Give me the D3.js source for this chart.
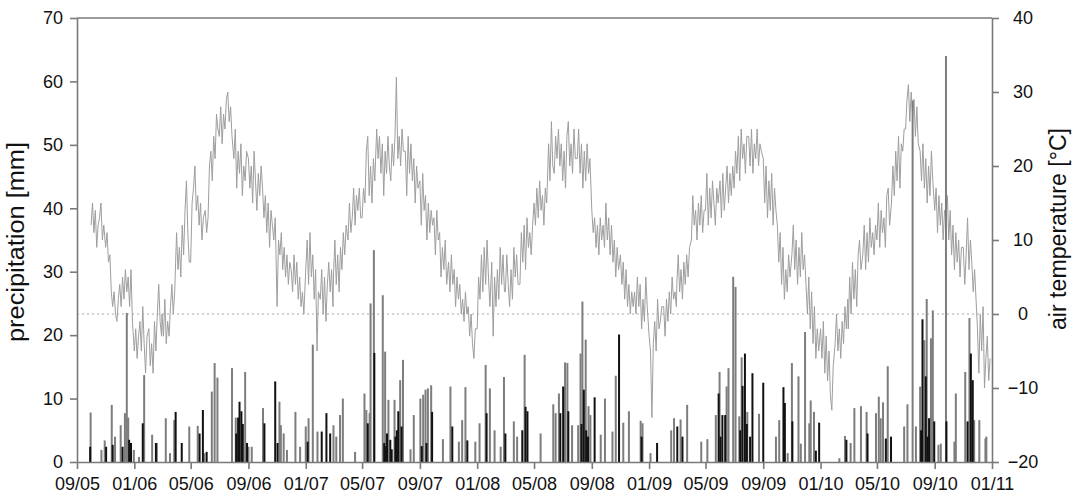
<!DOCTYPE html>
<html>
<head>
<meta charset="utf-8">
<script src="https://cdn.jsdelivr.net/npm/d3@7"></script>
<style>
  body { margin: 0; background: #fff; }
  svg { display: block; font-family: "Liberation Sans", Arial, sans-serif; }
</style>
</head>
<body>
<div id="chart"></div>
<script>
// Air temperature [°C]: 10 readings per month (days 1, 4, 7, ... 28)
const temp2005 = [ // Oct - Dec
  12, 15, 11, 14, 9, 12, 13, 15, 10, 12,
  9, 11, 7, 8, 3, 1, 3, 0, -1, 2,
  4, 1, 5, 2, 6, 3, 5, 1, 6, -1
];
const temp2006 = [
  -5, -2, -6, -3, -1, -5, 1, -4, -8, -3,
  -2, -7, -4, -8, -1, -5, 0, 4, -1, -3,
  0, -3, 2, -4, -1, -3, 1, 4, 0, 3,
  11, 6, 9, 5, 12, 8, 14, 18, 11, 7,
  7, 15, 17, 20, 14, 16, 12, 15, 10, 13,
  14, 11, 13, 20, 22, 18, 24, 21, 27, 25,
  24, 28, 23, 27, 25, 29, 30, 26, 28, 24,
  21, 25, 17, 22, 19, 23, 16, 20, 18, 22,
  21, 17, 20, 15, 22, 18, 14, 19, 16, 20,
  17, 13, 16, 11, 15, 9, 14, 12, 10, 13,
  1, 10, 8, 11, 6, 9, 5, 8, 4, 7,
  6, 3, 8, 4, 7, 2, 5, 1, 3, 0
];
const temp2007 = [
  6, 10, 4, 11, 5, 8, 2, 6, -5, 3,
  2, 6, 0, 5, -1, 4, 7, 3, 6, 1,
  5, 10, 4, 8, 3, 9, 6, 11, 8, 12,
  10, 15, 11, 13, 17, 12, 16, 14, 17, 13,
  13, 17, 15, 22, 24, 16, 20, 15, 21, 18,
  25, 21, 24, 19, 23, 16, 22, 19, 24, 20,
  18, 23, 20, 24, 32, 21, 24, 20, 25, 22,
  22, 16, 24, 19, 23, 18, 21, 15, 20, 17,
  18, 12, 19, 14, 16, 10, 15, 11, 14, 12,
  13, 8, 14, 10, 11, 5, 9, 6, 10, 4,
  7, 3, 8, 4, 6, 1, 5, 2, 4, 0,
  2, -1, 3, 0, 1, -3, 0, -4, -6, -2
];
const temp2008 = [
  -2, 5, 2, 8, 3, 9, 4, 10, 5, 1,
  7, -3, 5, 1, 6, 2, 9, 4, 8, 3,
  3, 8, 4, 1, 6, 2, 9, 5, 8, 4,
  4, 11, 7, 12, 6, 13, 9, 11, 8, 12,
  15, 12, 17, 13, 18, 14, 16, 12, 17, 15,
  23, 18, 26, 20, 19, 24, 21, 25, 20, 23,
  18, 22, 17, 24, 26, 20, 23, 19, 25, 21,
  21, 25, 19, 23, 17, 22, 18, 23, 19, 21,
  14, 11, 13, 9, 12, 8, 13, 10, 12, 9,
  15, 10, 13, 8, 12, 7, 10, 5, 9, 6,
  8, 4, 7, 2, 6, 1, 4, 0, 3, 1,
  3, 0, 5, 1, 4, -2, 2, -1, 5, 1
];
const temp2009 = [
  -3, -5, -14, -4, -1, -5, 2, -2, -1, 1,
  1, -3, 2, -1, 3, 0, 5, 2, 3, 1,
  4, 8, 3, 6, 2, 7, 4, 8, 5, 9,
  10, 16, 12, 14, 10, 15, 12, 16, 11, 14,
  14, 19, 12, 17, 13, 18, 15, 12, 17, 15,
  18, 13, 19, 14, 17, 20, 15, 19, 16, 20,
  17, 22, 19, 24, 18, 25, 21, 23, 19, 24,
  24, 20, 25, 19, 23, 21, 25, 20, 23, 22,
  21, 15, 20, 13, 18, 14, 19, 12, 17, 14,
  12, 7, 11, 4, 9, 2, 6, 3, 8, 5,
  8, 12, 6, 10, 4, 9, 5, 11, 6, 8,
  4, 0, 5, -2, 3, -4, 1, -6, -2, -5
];
const temp2010 = [
  -2, -6, -1, -8, -3, -9, -5, -11, -13, -7,
  -4, 0, -5, -2, -6, -1, -4, 1, -2, 2,
  -2, 5, 0, 7, 2, 6, 1, 8, 10, 6,
  8, 12, 6, 11, 7, 13, 9, 11, 8, 12,
  10, 15, 9, 14, 11, 13, 9, 16, 17, 12,
  15, 20, 16, 22, 18, 24, 17, 23, 22, 25,
  25, 29, 31, 26, 30, 27, 29, 24, 28, 23,
  22, 18, 23, 17, 21, 15, 20, 16, 22, 18,
  14, 17, 11, 16, 12, 15, 10, 14, 13, 16,
  10, 14, 8, 12, 6, 11, 7, 10, 5, 9,
  9, 4, 8, 13, 6, 10, 7, 3, 6, 2,
  -2, -8, 0, -5, 1, -10, -6, -3, -9, -6
];
const sampleDays = [1, 4, 7, 10, 13, 16, 19, 22, 25, 28];

// Daily precipitation [mm]: grey bars and black bars
const precipGray = [
  ["2005-09-30", 7.8], ["2005-10-23", 1.9], ["2005-10-30", 3.4], ["2005-11-14", 9.0], ["2005-11-21", 4.0],
  ["2005-12-03", 5.8], ["2005-12-12", 7.7], ["2005-12-16", 23.5], ["2005-12-19", 7.0], ["2005-12-31", 1.9],
  ["2006-01-11", 0.8], ["2006-01-22", 13.7], ["2006-02-08", 4.3], ["2006-02-18", 3.0], ["2006-03-09", 6.9],
  ["2006-03-18", 1.4], ["2006-03-27", 6.6], ["2006-04-28", 5.6], ["2006-05-16", 5.7], ["2006-05-30", 1.4],
  ["2006-06-15", 11.1], ["2006-06-21", 15.6], ["2006-06-27", 13.3], ["2006-07-28", 14.8], ["2006-08-05", 7.0],
  ["2006-08-25", 14.2], ["2006-09-01", 2.4], ["2006-09-08", 2.4], ["2006-10-02", 8.5], ["2006-11-06", 9.5],
  ["2006-11-09", 5.8], ["2006-11-15", 4.5], ["2006-11-22", 1.9], ["2006-12-10", 7.9], ["2006-12-20", 2.4],
  ["2007-01-01", 5.6], ["2007-01-07", 6.9], ["2007-01-16", 18.5], ["2007-01-26", 4.8], ["2007-03-01", 5.8],
  ["2007-03-07", 4.0], ["2007-03-15", 7.4], ["2007-03-21", 10.0], ["2007-04-16", 1.6], ["2007-05-06", 10.8],
  ["2007-05-10", 8.2], ["2007-05-17", 7.7], ["2007-05-19", 25.0], ["2007-05-26", 33.4], ["2007-06-14", 26.3],
  ["2007-06-19", 17.4], ["2007-06-26", 9.8], ["2007-07-09", 9.8], ["2007-07-21", 12.9], ["2007-07-27", 16.1],
  ["2007-08-12", 2.0], ["2007-08-19", 7.4], ["2007-09-02", 10.0], ["2007-09-08", 10.6], ["2007-09-13", 11.4],
  ["2007-09-18", 11.6], ["2007-09-25", 12.1], ["2007-10-20", 3.6], ["2007-11-05", 11.9], ["2007-11-23", 3.2],
  ["2007-11-30", 6.6], ["2007-12-07", 11.8], ["2007-12-28", 3.2],
  ["2008-01-06", 6.1], ["2008-01-19", 15.3], ["2008-01-28", 11.6], ["2008-02-07", 5.0], ["2008-02-20", 2.4],
  ["2008-02-27", 13.4], ["2008-03-19", 6.4], ["2008-03-26", 4.0], ["2008-04-11", 16.9], ["2008-05-15", 4.5],
  ["2008-06-11", 9.1], ["2008-06-16", 7.7], ["2008-06-23", 10.8], ["2008-07-06", 15.7], ["2008-07-11", 15.6],
  ["2008-07-21", 5.8], ["2008-08-03", 5.8], ["2008-08-08", 17.1], ["2008-08-12", 25.3], ["2008-08-19", 19.3],
  ["2008-08-25", 8.8], ["2008-08-29", 7.4], ["2008-09-20", 4.3], ["2008-09-29", 10.0], ["2008-10-15", 4.8],
  ["2008-10-22", 13.6], ["2008-11-07", 6.2], ["2008-11-19", 8.0], ["2008-12-14", 6.5], ["2008-12-18", 6.1],
  ["2009-01-04", 1.4], ["2009-02-17", 5.0], ["2009-02-23", 6.9], ["2009-03-09", 6.7], ["2009-03-23", 9.0],
  ["2009-04-22", 3.2], ["2009-05-05", 3.6], ["2009-05-23", 7.4], ["2009-05-31", 14.2], ["2009-06-15", 11.9],
  ["2009-06-19", 14.8], ["2009-06-29", 29.2], ["2009-07-04", 27.6], ["2009-07-12", 7.2], ["2009-07-17", 16.5],
  ["2009-07-29", 7.9], ["2009-08-23", 7.6], ["2009-09-28", 4.0], ["2009-10-05", 6.6], ["2009-10-23", 1.4],
  ["2009-11-01", 15.6], ["2009-11-15", 13.5], ["2009-11-20", 2.9], ["2009-11-29", 20.5], ["2009-12-08", 6.1],
  ["2009-12-11", 9.7], ["2009-12-18", 7.9],
  ["2010-02-10", 0.6], ["2010-02-22", 4.1], ["2010-03-06", 3.0], ["2010-03-14", 8.5], ["2010-03-28", 8.8],
  ["2010-04-09", 7.9], ["2010-04-29", 7.7], ["2010-05-05", 10.3], ["2010-05-09", 6.9], ["2010-05-14", 9.4],
  ["2010-05-24", 15.1], ["2010-06-28", 5.6], ["2010-07-05", 9.1], ["2010-07-16", 57.0], ["2010-07-23", 5.6],
  ["2010-08-01", 11.9], ["2010-08-10", 19.2], ["2010-08-15", 25.7], ["2010-08-24", 19.5], ["2010-08-28", 23.9],
  ["2010-09-09", 2.7], ["2010-09-14", 2.9], ["2010-09-25", 64.0], ["2010-10-13", 3.2], ["2010-10-16", 10.8],
  ["2010-11-05", 14.2], ["2010-11-14", 22.7], ["2010-11-24", 6.6], ["2010-12-05", 6.6], ["2010-12-18", 3.7],
  ["2010-12-20", 4.0]
];
const precipBlack = [
  ["2005-09-29", 2.4], ["2005-11-02", 2.4], ["2005-11-16", 2.7], ["2005-12-07", 2.4], ["2005-12-21", 3.5],
  ["2005-12-25", 3.0], ["2006-01-19", 6.1], ["2006-02-16", 3.0], ["2006-03-30", 7.9], ["2006-04-12", 3.0],
  ["2006-05-20", 4.5], ["2006-05-27", 8.2], ["2006-06-04", 1.6], ["2006-08-06", 4.5], ["2006-08-10", 7.0],
  ["2006-08-13", 9.5], ["2006-08-17", 8.0], ["2006-08-20", 6.0], ["2006-08-29", 3.0], ["2006-10-05", 6.1],
  ["2006-10-28", 12.7], ["2006-11-02", 3.0], ["2007-01-05", 3.2], ["2007-02-04", 4.8], ["2007-02-14", 7.7],
  ["2007-02-22", 4.5], ["2007-05-13", 6.1], ["2007-05-27", 17.2], ["2007-06-17", 3.0], ["2007-06-21", 2.5],
  ["2007-06-23", 4.5], ["2007-06-30", 3.5], ["2007-07-03", 2.0], ["2007-07-11", 4.0], ["2007-07-14", 5.0],
  ["2007-07-17", 8.0], ["2007-07-24", 5.6], ["2007-09-05", 2.5], ["2007-09-15", 3.0], ["2007-09-27", 7.9],
  ["2007-11-09", 5.6], ["2007-12-11", 3.4], ["2008-01-21", 7.7], ["2008-03-01", 4.5], ["2008-04-06", 5.0],
  ["2008-04-13", 8.7], ["2008-04-17", 8.0], ["2008-06-26", 7.7], ["2008-07-02", 11.9], ["2008-07-13", 8.0],
  ["2008-08-10", 6.0], ["2008-08-15", 11.4], ["2008-08-20", 5.0], ["2008-08-24", 4.0], ["2008-09-07", 10.2],
  ["2008-10-29", 20.1], ["2008-12-16", 4.0], ["2009-01-18", 3.0], ["2009-03-02", 5.6], ["2009-03-13", 4.0],
  ["2009-05-29", 10.8], ["2009-06-02", 4.0], ["2009-06-06", 7.4], ["2009-06-12", 7.4], ["2009-07-14", 5.0],
  ["2009-07-19", 12.0], ["2009-07-24", 17.1], ["2009-07-28", 6.0], ["2009-08-04", 4.0], ["2009-08-09", 14.0],
  ["2009-09-01", 12.5], ["2009-10-14", 11.8], ["2009-10-17", 9.3], ["2009-11-02", 6.4], ["2009-12-22", 1.8],
  ["2009-12-29", 6.2], ["2010-02-25", 3.5], ["2010-04-11", 4.5], ["2010-05-20", 3.7], ["2010-05-31", 4.0],
  ["2010-08-03", 5.0], ["2010-08-06", 22.5], ["2010-08-13", 13.5], ["2010-08-17", 4.0], ["2010-08-20", 6.9],
  ["2010-08-31", 6.4], ["2010-09-26", 6.4], ["2010-11-10", 6.4], ["2010-11-17", 17.1], ["2010-11-21", 12.9]
];

const precipTicks = [0, 10, 20, 30, 40, 50, 60, 70];
const tempTicks = [-20, -10, 0, 10, 20, 30, 40];

// Set up margins and dimensions
const W = 1075, H = 496;
const margin = { top: 18, right: 83, bottom: 34, left: 77 };
const width = W - margin.left - margin.right;
const height = H - margin.top - margin.bottom;

const svg = d3.select("#chart")
  .append("svg")
  .attr("width", W)
  .attr("height", H)
  .append("g")
  .attr("transform", `translate(${margin.left},${margin.top})`);

const parse = d3.timeParse("%Y-%m-%d");

// Build temperature series
const tempValues = [].concat(temp2005, temp2006, temp2007, temp2008, temp2009, temp2010);
const tempMonths = d3.timeMonth.range(new Date(2005, 9, 1), new Date(2011, 0, 1));
const perMonth = sampleDays.length;
const tempData = [];
tempMonths.forEach((m, i) => {
  sampleDays.forEach((day, k) => {
    tempData.push({ date: new Date(m.getFullYear(), m.getMonth(), day), value: tempValues[i * perMonth + k] });
  });
});

// Scales
const x = d3.scaleTime()
  .domain([new Date(2005, 8, 1), new Date(2011, 0, 1)])
  .range([0, width]);
const yP = d3.scaleLinear().domain([0, 70]).range([height, 0]);
const yT = d3.scaleLinear().domain([-20, 40]).range([height, 0]);

const axisColor = "#7a7a7a";

// Zero degree line
svg.append("line")
  .attr("x1", 0).attr("x2", width)
  .attr("y1", yT(0)).attr("y2", yT(0))
  .style("stroke", "#a8a8a8")
  .style("stroke-width", 1)
  .style("stroke-dasharray", "2,3");

// Temperature line
const line = d3.line()
  .x(d => x(d.date))
  .y(d => yT(d.value));

svg.append("path")
  .datum(tempData)
  .attr("d", line)
  .style("fill", "none")
  .style("stroke", "#9e9e9e")
  .style("stroke-width", 1);

// Precipitation bars
const barW = 2;
svg.selectAll("rect.gray")
  .data(precipGray)
  .enter()
  .append("rect")
  .attr("class", "gray")
  .attr("x", d => x(parse(d[0])) - barW / 2)
  .attr("y", d => yP(d[1]))
  .attr("width", barW)
  .attr("height", d => height - yP(d[1]))
  .style("fill", "#7d7d7d");

svg.selectAll("rect.black")
  .data(precipBlack)
  .enter()
  .append("rect")
  .attr("class", "black")
  .attr("x", d => x(parse(d[0])) - barW / 2)
  .attr("y", d => yP(d[1]))
  .attr("width", barW)
  .attr("height", d => height - yP(d[1]))
  .style("fill", "#111");

// Frame top line
svg.append("line")
  .attr("x1", 0).attr("x2", width)
  .attr("y1", 0).attr("y2", 0)
  .style("stroke", axisColor)
  .style("stroke-width", 1.6);

// Axes
const styleAxis = g => {
  g.select(".domain").style("stroke", axisColor).style("stroke-width", 1.6);
  g.selectAll(".tick line").style("stroke", axisColor).style("stroke-width", 1.6);
  g.selectAll("text").style("font-size", "18px").style("fill", "#111")
    .style("font-family", "'Liberation Sans', Arial, sans-serif");
};

svg.append("g")
  .call(d3.axisLeft(yP).tickValues(precipTicks).tickSize(7).tickSizeOuter(0).tickPadding(7))
  .call(styleAxis);

const rightAxis = svg.append("g")
  .attr("transform", `translate(${width},0)`)
  .call(d3.axisRight(yT).tickValues(tempTicks).tickSize(7).tickSizeOuter(0))
  .call(styleAxis);
rightAxis.selectAll("text")
  .attr("x", 31)
  .attr("text-anchor", "middle");

svg.append("g")
  .attr("transform", `translate(0,${height})`)
  .call(d3.axisBottom(x)
    .ticks(d3.timeMonth.every(4))
    .tickFormat(d3.timeFormat("%m/%y"))
    .tickSize(7)
    .tickSizeOuter(0)
    .tickPadding(8))
  .call(styleAxis);

// Axis titles
svg.append("text")
  .attr("transform", `translate(${16 - margin.left},${242 - margin.top}) rotate(-90)`)
  .attr("text-anchor", "middle")
  .attr("dy", "0.35em")
  .attr("textLength", 200)
  .attr("lengthAdjust", "spacingAndGlyphs")
  .style("font-size", "23px")
  .style("fill", "#111")
  .text("precipitation [mm]");

svg.append("text")
  .attr("transform", `translate(${1058 - margin.left},${229 - margin.top}) rotate(-90)`)
  .attr("text-anchor", "middle")
  .attr("dy", "0.35em")
  .attr("textLength", 202)
  .attr("lengthAdjust", "spacingAndGlyphs")
  .style("font-size", "23px")
  .style("fill", "#111")
  .text("air temperature [°C]");
</script>
</body>
</html>
